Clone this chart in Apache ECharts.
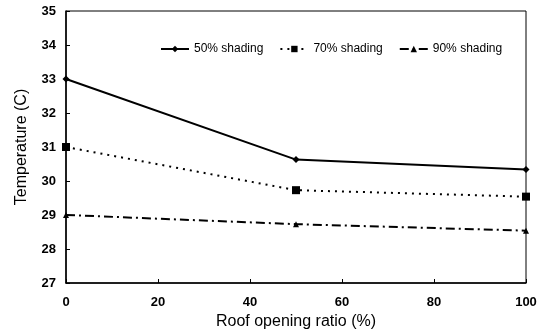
<!DOCTYPE html>
<html>
<head>
<meta charset="utf-8">
<script src="https://cdn.jsdelivr.net/npm/echarts@6/dist/echarts.min.js"></script>
<style>html,body{margin:0;padding:0;background:#fff}#c{width:550px;height:333px}</style>
</head>
<body>
<div id="c"></div>
<script>
const xValues = [0, 50, 100];
const shading50 = [33.0, 30.63, 30.34];
const shading70 = [31.0, 29.73, 29.54];
const shading90 = [29.0, 28.73, 28.54];
const seriesNames = ['50% shading', '70% shading', '90% shading'];

const pair = (ys) => xValues.map((x, i) => [x, ys[i]]);
const font = 'Liberation Sans, Arial, sans-serif';

const chart = echarts.init(document.getElementById('c'));
chart.setOption({
  animation: false,
  backgroundColor: '#fff',
  grid: { left: 66, right: 24, top: 11, bottom: 50, show: true, borderColor: '#000', borderWidth: 1, outerBoundsMode: 'none', containLabel: false },
  legend: {
    data: seriesNames,
    top: 38, left: 155,
    itemWidth: 28, itemHeight: 8, itemGap: 16,
    textStyle: { fontFamily: font, fontSize: 12, color: '#000' }
  },
  xAxis: {
    type: 'value', min: 0, max: 100, interval: 20,
    name: 'Roof opening ratio (%)', nameLocation: 'middle', nameGap: 31,
    nameTextStyle: { fontFamily: font, fontSize: 16, color: '#000' },
    axisLine: { lineStyle: { color: '#000', width: 1.5 } },
    axisTick: { inside: true, length: 4, lineStyle: { color: '#000' } },
    axisLabel: { fontFamily: font, fontSize: 13, fontWeight: 'bold', color: '#000', margin: 13 },
    splitLine: { show: false }
  },
  yAxis: {
    type: 'value', min: 27, max: 35, interval: 1,
    name: 'Temperature (C)', nameLocation: 'middle', nameGap: 36,
    nameTextStyle: { fontFamily: font, fontSize: 16, color: '#000' },
    axisLine: { show: true, lineStyle: { color: '#000', width: 1.5 } },
    axisTick: { show: true, inside: true, length: 4, lineStyle: { color: '#000' } },
    axisLabel: { fontFamily: font, fontSize: 13, fontWeight: 'bold', color: '#000', margin: 10 },
    splitLine: { show: false }
  },
  series: [
    {
      name: seriesNames[0], type: 'line', data: pair(shading50),
      symbol: 'diamond', symbolSize: 7,
      itemStyle: { color: '#000' },
      lineStyle: { color: '#000', width: 2, type: 'solid' }
    },
    {
      name: seriesNames[1], type: 'line', data: pair(shading70),
      symbol: 'rect', symbolSize: 8,
      itemStyle: { color: '#000' },
      lineStyle: { color: '#000', width: 2, type: [2, 5] }
    },
    {
      name: seriesNames[2], type: 'line', data: pair(shading90),
      symbol: 'triangle', symbolSize: 6,
      itemStyle: { color: '#000' },
      lineStyle: { color: '#000', width: 2, type: [9, 4, 2, 4] }
    }
  ]
});
</script>
</body>
</html>
